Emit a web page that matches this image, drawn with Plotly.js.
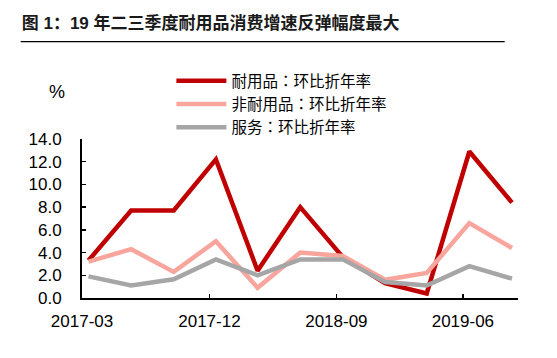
<!DOCTYPE html>
<html>
<head>
<meta charset="utf-8">
<script src="https://cdn.plot.ly/plotly-3.0.1.min.js"></script>
<style>html,body{margin:0;padding:0;background:#fff;}#chart{width:557px;height:358px;}</style>
</head>
<body>
<div id="chart"></div>
<script>
const quarters = ["2017-03-15","2017-06-15","2017-09-15","2017-12-15","2018-03-15","2018-06-15","2018-09-15","2018-12-15","2019-03-15","2019-06-15","2019-09-15"];
const durable = [3.3, 7.7, 7.7, 12.2, 2.4, 8.0, 3.6, 1.3, 0.4, 12.9, 8.4];
const nondurable = [3.2, 4.3, 2.3, 5.0, 0.9, 4.0, 3.7, 1.6, 2.2, 6.6, 4.4];
const services = [1.9, 1.1, 1.65, 3.4, 2.0, 3.4, 3.4, 1.4, 1.1, 2.8, 1.7];
const seriesNames = ["耐用品：环比折年率", "非耐用品：环比折年率", "服务：环比折年率"];
const tickVals = ["2017-03-01","2017-12-01","2018-09-01","2019-06-01"];
const tickText = ["2017-03","2017-12","2018-09","2019-06"];
const yTicks = [0,2,4,6,8,10,12,14];
const yTickText = ["0.0","2.0","4.0","6.0","8.0","10.0","12.0","14.0"];
const titleText = "图 1：19 年二三季度耐用品消费增速反弹幅度最大";

const colors = ["#C00000", "#F8A59D", "#A6A6A6"];
const allSeries = [durable, nondurable, services];
const traces = allSeries.map((s, i) => ({
  x: quarters, y: s, name: seriesNames[i], type: "scatter", mode: "lines",
  line: {color: colors[i], width: 4.5}
}));

const fontFam = "Liberation Sans, Arial, Noto Sans CJK SC, sans-serif";
const layout = {
  width: 557, height: 358,
  margin: {l: 82, r: 39, t: 139, b: 60},
  paper_bgcolor: "#fff", plot_bgcolor: "#fff",
  font: {family: fontFam, size: 17, color: "#000"},
  title: {text: "<b>" + titleText + "</b>", x: 0.039, xanchor: "left", y: 0.936, yanchor: "middle",
    font: {family: fontFam, size: 17, color: "#1a1a1a"}},
  showlegend: true,
  legend: {x: 0.205, y: 1.47, xanchor: "left", yanchor: "top", bgcolor: "rgba(0,0,0,0)",
    font: {family: "Noto Sans CJK TC, Noto Sans CJK SC, sans-serif", size: 15.5, color: "#000"}, itemwidth: 50, tracegroupgap: 0},
  xaxis: {type: "date", range: ["2017-03-01", "2019-09-28"], tickvals: tickVals, ticktext: tickText,
    showgrid: false, zeroline: false, showline: true, linecolor: "#000", linewidth: 2,
    ticks: "inside", ticklen: 4, tickwidth: 1.5, tickcolor: "#000", tickfont: {size: 17, family: fontFam},
    ticklabelstandoff: 7},
  yaxis: {range: [0, 14], tickvals: yTicks, ticktext: yTickText, showgrid: false, zeroline: false,
    showline: true, linecolor: "#000", linewidth: 2, ticks: "inside", ticklen: 4, tickwidth: 1.5, tickcolor: "#000",
    tickfont: {size: 17, family: fontFam}, ticklabelstandoff: 15},
  shapes: [{type: "line", xref: "paper", yref: "paper", x0: -0.1406, x1: 0.9695, y0: 1.6124, y1: 1.6124,
    line: {color: "#000", width: 1.2}}],
  annotations: [{text: "%", xref: "paper", yref: "paper", x: -0.058, y: 1.294, showarrow: false,
    xanchor: "center", yanchor: "middle", font: {size: 18, family: fontFam, color: "#000"}}]
};
Plotly.newPlot("chart", traces, layout, {staticPlot: true, displayModeBar: false});
</script>
</body>
</html>
